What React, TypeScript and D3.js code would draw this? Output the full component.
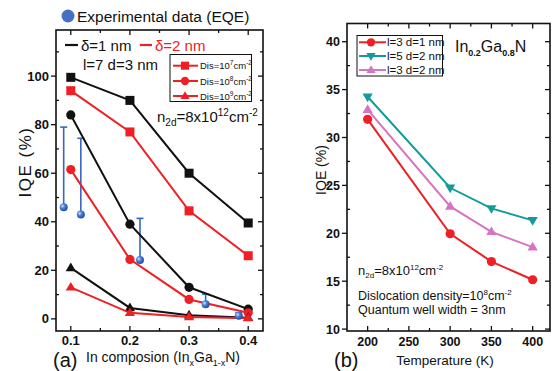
import React from "react";
import * as d3 from "d3";

// ---------- Panel (a) data ----------
const compX = [0.1, 0.2, 0.3, 0.4];
const d1Dis7 = [99.5, 90, 60, 39.5];
const d2Dis7 = [94, 77, 44.5, 26];
const d1Dis8 = [84, 39, 13, 4];
const d2Dis8 = [61.5, 24.5, 8, 2.5];
const d1Dis9 = [21, 4.5, 1.5, 0.5];
const d2Dis9 = [13, 2.5, 0.8, 0.3];
const expX = [0.088, 0.117, 0.217, 0.328, 0.384];
const expY = [46, 43, 24.2, 6, 1.3];
const expTop = [79, 74.4, 41.4, 10.2, 2.5];
const aXTicks = [0.1, 0.2, 0.3, 0.4];
const aXMinor = [0.15, 0.25, 0.35];
const aYTicks = [0, 20, 40, 60, 80, 100];
const aYMinor = [10, 30, 50, 70, 90, 110];

// ---------- Panel (b) data ----------
const temps = [200, 300, 350, 400];
const l3d1 = [31.9, 19.95, 17.05, 15.15];
const l5d2 = [34.25, 24.75, 22.6, 21.35];
const l3d2 = [32.9, 22.8, 20.15, 18.55];
const bXTicks = [200, 250, 300, 350, 400];
const bXMinor = [225, 275, 325, 375];
const bYTicks = [10, 15, 20, 25, 30, 35, 40];
const bYMinor = [12.5, 17.5, 22.5, 27.5, 32.5, 37.5];

const RED = "#ee2025";
const BLACK = "#111111";
const TEAL = "#139b9b";
const PINK = "#d873c4";
const BLUE = "#3566c0";
const FONT = "Liberation Sans, Arial, Helvetica, sans-serif";

type Shape = "square" | "circle" | "triangle" | "tridown";

function Marker({ x, y, shape, color, s = 1 }: { x: number; y: number; shape: Shape; color: string; s?: number }) {
  if (shape === "square") {
    const h = 4.5 * s;
    return <rect x={x - h} y={y - h} width={2 * h} height={2 * h} fill={color} />;
  }
  if (shape === "circle") return <circle cx={x} cy={y} r={4.6 * s} fill={color} />;
  if (shape === "triangle") {
    const r = 5.4 * s;
    return <path d={`M${x},${y - r}L${x + r * 0.95},${y + r * 0.6}L${x - r * 0.95},${y + r * 0.6}Z`} fill={color} />;
  }
  const r = 5.4 * s;
  return <path d={`M${x},${y + r}L${x + r * 0.95},${y - r * 0.6}L${x - r * 0.95},${y - r * 0.6}Z`} fill={color} />;
}

function Series({ xs, ys, sx, sy, color, shape, lw = 2 }: any) {
  const line = d3.line<number>().x((_, i) => sx(xs[i])).y((v) => sy(v));
  return (
    <g>
      <path d={line(ys) || ""} fill="none" stroke={color} strokeWidth={lw} />
      {ys.map((v: number, i: number) => (
        <Marker key={i} x={sx(xs[i])} y={sy(v)} shape={shape} color={color} />
      ))}
    </g>
  );
}

function Frame({ sx, sy, xT, xM, yT, yM, xFmt, yFmt, fs, xLabDy }: any) {
  const [x0, x1] = sx.range();
  const [y0, y1] = sy.range(); // y0 bottom, y1 top
  const M = 5, m = 3;
  return (
    <g stroke={BLACK} strokeWidth={1.3}>
      <rect x={x0} y={y1} width={x1 - x0} height={y0 - y1} fill="none" strokeWidth={1.6} />
      {xT.map((t: number) => (
        <g key={"xt" + t}>
          <line x1={sx(t)} x2={sx(t)} y1={y0} y2={y0 - M} />
          <line x1={sx(t)} x2={sx(t)} y1={y1} y2={y1 + M} />
          <text x={sx(t)} y={y0 + xLabDy} textAnchor="middle" fontSize={fs} fontWeight="bold" fontFamily={FONT} stroke="none" fill={BLACK}>
            {xFmt(t)}
          </text>
        </g>
      ))}
      {xM.map((t: number) => (
        <g key={"xm" + t}>
          <line x1={sx(t)} x2={sx(t)} y1={y0} y2={y0 - m} />
          <line x1={sx(t)} x2={sx(t)} y1={y1} y2={y1 + m} />
        </g>
      ))}
      {yT.map((t: number) => (
        <g key={"yt" + t}>
          <line x1={x0} x2={x0 - M} y1={sy(t)} y2={sy(t)} />
          <line x1={x1} x2={x1 - M} y1={sy(t)} y2={sy(t)} />
          <text x={x0 - 7} y={sy(t) + 4.5} textAnchor="end" fontSize={fs} fontWeight="bold" fontFamily={FONT} stroke="none" fill={BLACK}>
            {yFmt(t)}
          </text>
        </g>
      ))}
      {yM.map((t: number) => (
        <g key={"ym" + t}>
          <line x1={x0} x2={x0 + m} y1={sy(t)} y2={sy(t)} />
          <line x1={x1} x2={x1 - m} y1={sy(t)} y2={sy(t)} />
        </g>
      ))}
    </g>
  );
}

export default function App() {
  const xA = d3.scaleLinear().domain([0.075, 0.425]).range([56, 263]);
  const yA = d3.scaleLinear().domain([-5, 119]).range([331, 30]);
  const xB = d3.scaleLinear().domain([175, 421]).range([347, 550]);
  const yB = d3.scaleLinear().domain([9.8, 41.9]).range([331, 23.5]);

  const legA = [
    { shape: "square" as Shape, sup: "7", y: 65.7 },
    { shape: "circle" as Shape, sup: "8", y: 81 },
    { shape: "triangle" as Shape, sup: "9", y: 96 },
  ];
  const legB = [
    { shape: "circle" as Shape, color: RED, label: "l=3 d=1 nm", y: 42.3 },
    { shape: "tridown" as Shape, color: TEAL, label: "l=5 d=2 nm", y: 56 },
    { shape: "triangle" as Shape, color: PINK, label: "l=3 d=2 nm", y: 70 },
  ];

  return (
    <svg width={553} height={371} style={{ position: "absolute", left: 0, top: 0, background: "#fff" }} fontFamily={FONT}>
      <defs>
        <radialGradient id="blueBall" cx="35%" cy="35%" r="65%">
          <stop offset="0%" stopColor="#cfe0ff" />
          <stop offset="45%" stopColor="#4a7fd6" />
          <stop offset="100%" stopColor="#234e9e" />
        </radialGradient>
      </defs>

      {/* ===== Panel (a) ===== */}
      <Frame sx={xA} sy={yA} xT={aXTicks} xM={aXMinor} yT={aYTicks} yM={aYMinor} xFmt={(t: number) => t.toFixed(1)} yFmt={(t: number) => String(t)} fs={13} xLabDy={14} />

      {/* experimental error bars */}
      {expX.map((x, i) => (
        <g key={"e" + i} stroke={BLUE} strokeWidth={1.6}>
          <line x1={xA(x)} x2={xA(x)} y1={yA(expY[i])} y2={yA(expTop[i])} />
          <line x1={xA(x) - 3.5} x2={xA(x) + 3.5} y1={yA(expTop[i])} y2={yA(expTop[i])} />
        </g>
      ))}

      <Series xs={compX} ys={d1Dis7} sx={xA} sy={yA} color={BLACK} shape="square" />
      <Series xs={compX} ys={d2Dis7} sx={xA} sy={yA} color={RED} shape="square" />
      <Series xs={compX} ys={d1Dis8} sx={xA} sy={yA} color={BLACK} shape="circle" />
      <Series xs={compX} ys={d2Dis8} sx={xA} sy={yA} color={RED} shape="circle" />
      <Series xs={compX} ys={d1Dis9} sx={xA} sy={yA} color={BLACK} shape="triangle" />
      <Series xs={compX} ys={d2Dis9} sx={xA} sy={yA} color={RED} shape="triangle" />

      {expX.map((x, i) => (
        <circle key={"ep" + i} cx={xA(x)} cy={yA(expY[i])} r={4} fill="url(#blueBall)" />
      ))}

      {/* top legend */}
      <circle cx={68} cy={16} r={6.5} fill="#4670c4" />
      <text x={77} y={22} fontSize={15.5} fill={BLACK}>Experimental data (EQE)</text>

      <line x1={65} x2={78} y1={45} y2={45} stroke={BLACK} strokeWidth={2.2} />
      <text x={81} y={50.5} fontSize={15} fill={BLACK}>δ=1 nm</text>
      <line x1={140} x2={152} y1={45} y2={45} stroke={RED} strokeWidth={2.2} />
      <text x={155} y={50.5} fontSize={15} fill={RED}>δ=2 nm</text>
      <text x={83} y={70} fontSize={15} fill={BLACK}>l=7 d=3 nm</text>

      <rect x={170} y={54.5} width={81.5} height={47} fill="#fff" stroke={BLACK} strokeWidth={1} />
      {legA.map((r) => (
        <g key={r.sup}>
          <line x1={173} x2={198} y1={r.y} y2={r.y} stroke={RED} strokeWidth={2} />
          <Marker x={185} y={r.y} shape={r.shape} color={RED} s={0.9} />
          <text x={200} y={r.y + 3.5} fontSize={9.5} fill={BLACK}>
            Dis=10<tspan dy={-4} fontSize={6.5}>{r.sup}</tspan>
            <tspan dy={4}>cm</tspan>
            <tspan dy={-4} fontSize={6.5}>-2</tspan>
          </text>
        </g>
      ))}

      <text x={157} y={121.5} fontSize={15} fill={BLACK}>
        n<tspan dy={4} fontSize={10}>2d</tspan>
        <tspan dy={-4}>=8x10</tspan>
        <tspan dy={-6} fontSize={10}>12</tspan>
        <tspan dy={6}>cm</tspan>
        <tspan dy={-6} fontSize={10}>-2</tspan>
      </text>

      <text transform="translate(31,162) rotate(-90)" textAnchor="middle" fontSize={17} letterSpacing={1.5} fill={BLACK}>IQE (%)</text>
      <text x={53} y={367} fontSize={20} fill={BLACK}>(a)</text>
      <text x={86} y={361.5} fontSize={14} fill={BLACK}>
        In composion (In<tspan dy={4} fontSize={9}>x</tspan>
        <tspan dy={-4}>Ga</tspan>
        <tspan dy={4} fontSize={9}>1-x</tspan>
        <tspan dy={-4}>N)</tspan>
      </text>

      {/* ===== Panel (b) ===== */}
      <Frame sx={xB} sy={yB} xT={bXTicks} xM={bXMinor} yT={bYTicks} yM={bYMinor} xFmt={(t: number) => String(t)} yFmt={(t: number) => String(t)} fs={12.5} xLabDy={15} />

      <Series xs={temps} ys={l5d2} sx={xB} sy={yB} color={TEAL} shape="tridown" lw={2} />
      <Series xs={temps} ys={l3d2} sx={xB} sy={yB} color={PINK} shape="triangle" lw={2} />
      <Series xs={temps} ys={l3d1} sx={xB} sy={yB} color={RED} shape="circle" lw={2} />

      <rect x={357} y={35.5} width={85.5} height={40.5} fill="#fff" stroke={BLACK} strokeWidth={1} />
      {legB.map((r) => (
        <g key={r.label}>
          <line x1={359} x2={386} y1={r.y} y2={r.y} stroke={r.color} strokeWidth={2} />
          <Marker x={371} y={r.y} shape={r.shape} color={r.color} s={0.9} />
          <text x={387} y={r.y + 4} fontSize={11.5} fill={BLACK}>{r.label}</text>
        </g>
      ))}

      <text x={455} y={51.5} fontSize={16} fill={BLACK}>
        In<tspan dy={4} fontSize={9} fontWeight="bold">0.2</tspan>
        <tspan dy={-4}>Ga</tspan>
        <tspan dy={4} fontSize={9} fontWeight="bold">0.8</tspan>
        <tspan dy={-4}>N</tspan>
      </text>

      <text x={358} y={275} fontSize={13} fill={BLACK}>
        n<tspan dy={3} fontSize={8}>2d</tspan>
        <tspan dy={-3}>=8x10</tspan>
        <tspan dy={-5} fontSize={8}>12</tspan>
        <tspan dy={5}>cm</tspan>
        <tspan dy={-5} fontSize={8}>-2</tspan>
      </text>
      <text x={358} y={299.5} fontSize={12.5} fill={BLACK}>
        Dislocation density=10<tspan dy={-5} fontSize={8}>8</tspan>
        <tspan dy={5}>cm</tspan>
        <tspan dy={-5} fontSize={8}>-2</tspan>
      </text>
      <text x={358} y={314} fontSize={12.5} fill={BLACK}>Quantum well width = 3nm</text>

      <text transform="translate(326,170) rotate(-90)" textAnchor="middle" fontSize={14} fill={BLACK}>IQE (%)</text>
      <text x={334} y={367} fontSize={20} fill={BLACK}>(b)</text>
      <text x={445} y={365} textAnchor="middle" fontSize={13.5} fill={BLACK}>Temperature (K)</text>
    </svg>
  );
}
